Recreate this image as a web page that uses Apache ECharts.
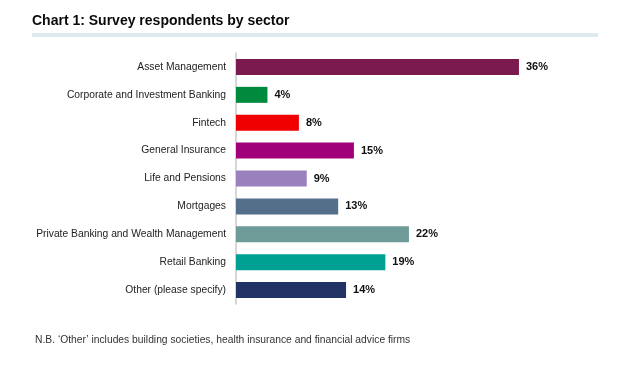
<!DOCTYPE html>
<html><head><meta charset="utf-8">
<script src="https://cdn.jsdelivr.net/npm/echarts@6/dist/echarts.min.js"></script>
<style>html,body{margin:0;padding:0;background:#fff}#c{width:631px;height:366px}</style>
</head><body><div id="c"></div>
<script>
const categories = ["Asset Management","Corporate and Investment Banking","Fintech","General Insurance","Life and Pensions","Mortgages","Private Banking and Wealth Management","Retail Banking","Other (please specify)"];
const values = [36,4,8,15,9,13,22,19,14];
const colors = ["#7b1a4e","#008a3e","#f00000","#a0007a","#9b80be","#546f8a","#6e9a98","#00a093","#213265"];
const titleText = "Chart 1: Survey respondents by sector";
const noteText = "N.B. \u2018Other\u2019 includes building societies, health insurance and financial advice firms";

const chart = echarts.init(document.getElementById('c'));
chart.setOption({
  animation:false,
  backgroundColor:'#fff',
  title:{text:titleText,left:32,top:14,padding:0,textStyle:{fontFamily:'Liberation Sans',fontWeight:'bold',fontSize:14,color:'#0a0a0a'}},
  graphic:[
    {type:'rect',shape:{x:32,y:33,width:566,height:4},style:{fill:'#dde9f1'}},
    {type:'text',left:35,top:335,style:{text:noteText,font:'10.3px "Liberation Sans"',fill:'#333'}}
  ],
  grid:{left:236,top:53,width:314.4,height:251},
  xAxis:{type:'value',min:0,max:40,show:false},
  yAxis:{type:'category',data:categories,inverse:true,
    axisLine:{lineStyle:{color:'#c8c8c8',width:1.5}},axisTick:{show:false},
    axisLabel:{margin:10,fontFamily:'Liberation Sans',fontSize:10.3,color:'#222'}},
  series:[{type:'bar',barWidth:16,
    data:values.map((v,i)=>({value:v,itemStyle:{color:colors[i]}})),
    label:{show:true,position:'right',distance:7,formatter:'{c}%',fontFamily:'Liberation Sans',fontWeight:'bold',fontSize:11,color:'#111'}}]
});
</script></body></html>
